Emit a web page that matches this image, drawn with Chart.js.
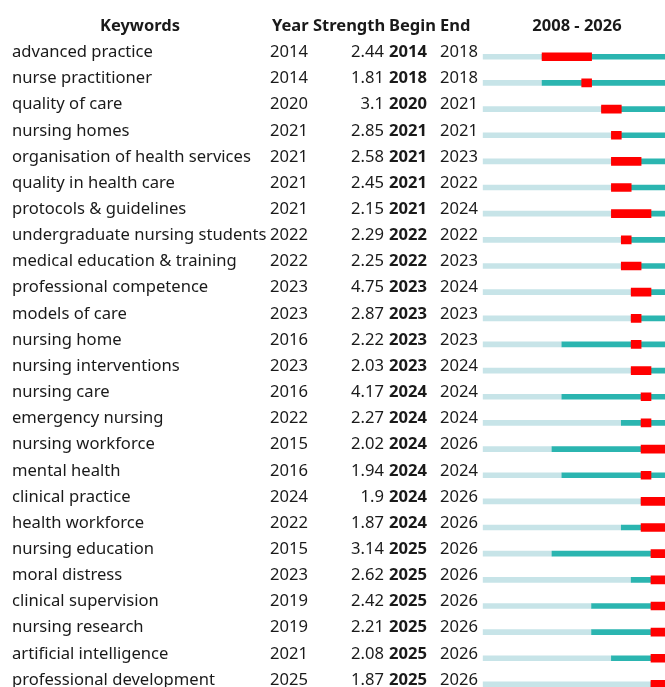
<!DOCTYPE html>
<html>
<head>
<meta charset="utf-8">
<script src="https://cdn.jsdelivr.net/npm/chart.js@4"></script>
<style>
  html, body { margin: 0; padding: 0; background: #fff; overflow: hidden; }
</style>
</head>
<body>
<canvas id="chartCanvas" width="690" height="705"></canvas>
<script>
// burst table data
const keywords = [
    "advanced practice", "nurse practitioner", "quality of care", "nursing homes",
    "organisation of health services", "quality in health care", "protocols & guidelines",
    "undergraduate nursing students", "medical education & training", "professional competence",
    "models of care", "nursing home", "nursing interventions", "nursing care",
    "emergency nursing", "nursing workforce", "mental health", "clinical practice",
    "health workforce", "nursing education", "moral distress", "clinical supervision",
    "nursing research", "artificial intelligence", "professional development"
];
const years = [2014, 2014, 2020, 2021, 2021, 2021, 2021, 2022, 2022, 2023, 2023, 2016, 2023,
    2016, 2022, 2015, 2016, 2024, 2022, 2015, 2023, 2019, 2019, 2021, 2025];
const strengths = ["2.44", "1.81", "3.1", "2.85", "2.58", "2.45", "2.15", "2.29", "2.25", "4.75",
    "2.87", "2.22", "2.03", "4.17", "2.27", "2.02", "1.94", "1.9", "1.87", "3.14", "2.62",
    "2.42", "2.21", "2.08", "1.87"];
const begins = [2014, 2018, 2020, 2021, 2021, 2021, 2021, 2022, 2022, 2023, 2023, 2023, 2023,
    2024, 2024, 2024, 2024, 2024, 2024, 2025, 2025, 2025, 2025, 2025, 2025];
const ends = [2018, 2018, 2021, 2021, 2023, 2022, 2024, 2022, 2023, 2024, 2023, 2023, 2024,
    2024, 2024, 2026, 2024, 2026, 2026, 2026, 2026, 2026, 2026, 2026, 2026];
const firstYear = 2008;
const lastYear = 2026;

const FONT = "'Noto Sans', 'Open Sans', sans-serif";

// draws the keyword table left of the bars, rows follow the y scale
const tablePlugin = {
    id: "burstTable",
    afterDraw(chart) {
        const ctx = chart.ctx;
        const yScale = chart.scales.y;
        ctx.save();
        ctx.fillStyle = "#1a1a1a";
        ctx.textBaseline = "alphabetic";

        // header
        ctx.font = "bold 16.5px " + FONT;
        ctx.textAlign = "center";
        ctx.fillText("Keywords", 140, 30.5);
        ctx.fillText(firstYear + " - " + lastYear, 577, 30.5);
        ctx.textAlign = "left";
        ctx.fillText("Year", 272, 30.5);
        ctx.fillText("Strength", 313, 30.5);
        ctx.fillText("Begin", 389, 30.5);
        ctx.fillText("End", 440, 30.5);

        keywords.forEach((kw, i) => {
            const y = yScale.getPixelForValue(i) + 0.3;
            ctx.font = "16.6px " + FONT;
            ctx.textAlign = "left";
            ctx.fillText(kw, 12, y);
            ctx.fillText(String(years[i]), 270, y);
            ctx.fillText(String(ends[i]), 440, y);
            ctx.textAlign = "right";
            ctx.fillText(strengths[i], 384, y);
            ctx.textAlign = "left";
            ctx.font = "bold 16.6px " + FONT;
            ctx.fillText(String(begins[i]), 389, y);
        });
        ctx.restore();
    }
};

const ctx = document.getElementById("chartCanvas").getContext("2d");

new Chart(ctx, {
    type: "bar",
    data: {
        labels: keywords,
        datasets: [
            {
                label: "burst",
                data: begins.map((b, i) => [b, ends[i] + 1]),
                backgroundColor: "#ff0000",
                barThickness: 8,
                grouped: false,
            },
            {
                label: "active",
                data: years.map((y) => [y, lastYear + 1]),
                backgroundColor: "#2bb5b0",
                barThickness: 5,
                grouped: false,
            },
            {
                label: "before",
                data: years.map((y) => [firstYear, y]),
                backgroundColor: "#c7e4e8",
                barThickness: 5,
                grouped: false,
            },
        ],
    },
    options: {
        indexAxis: "y",
        responsive: false,
        animation: false,
        layout: {
            padding: { left: 482.7, right: 19.2, top: 43.7, bottom: 7.5 },
        },
        scales: {
            x: { type: "linear", min: firstYear, max: lastYear + 1, display: false },
            y: { type: "category", display: false },
        },
        plugins: {
            legend: { display: false },
            tooltip: { enabled: false },
        },
    },
    plugins: [tablePlugin],
});
</script>
</body>
</html>
